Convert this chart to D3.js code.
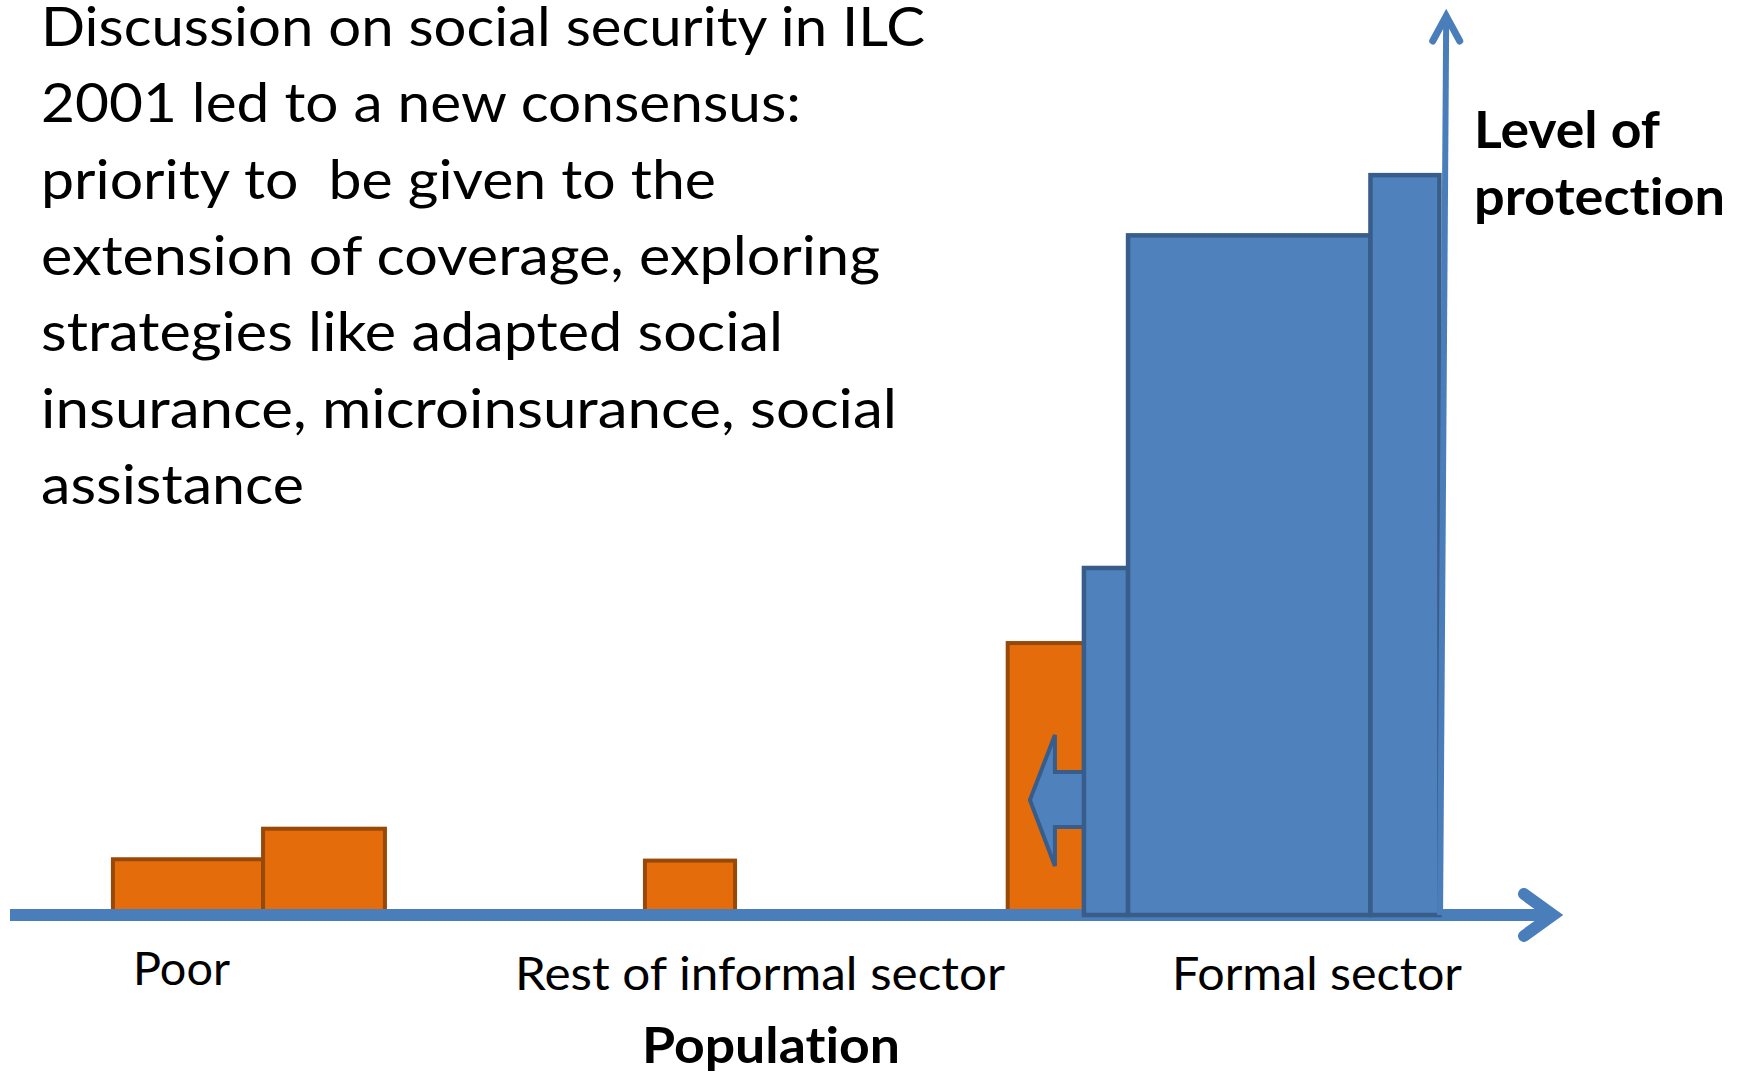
<!DOCTYPE html>
<html>
<head>
<meta charset="utf-8">
<script src="https://cdn.jsdelivr.net/npm/d3@7"></script>
<style>
    body { margin: 0; background: #ffffff; }
    svg { display: block; }
    text { font-family: Lato, "Open Sans", sans-serif; fill: #000000; font-variant-ligatures: none; }
</style>
</head>
<body>
<div id="chart"></div>
<script>
// Population runs left to right (0-100), level of protection bottom to top (0-100)
const informalStart = [6.67, 16.4, 41.15, 64.66];
const informalEnd   = [16.4, 24.3, 46.99, 69.6];
const informalLevel = [6.2, 9.6, 6.05, 30.25];

const formalStart = [69.6, 72.46, 88.17];
const formalEnd   = [72.46, 88.17, 92.64];
const formalLevel = [38.6, 75.6, 82.3];

// Arrow showing the push of formal coverage into the informal sector
const pushArrowX = [70.0, 67.72, 67.72, 66.1, 67.72, 67.72, 70.0];
const pushArrowY = [15.9, 15.9, 20.02, 12.79, 5.45, 9.79, 9.79];

const groupLabels = ["Poor", "Rest of informal sector", "Formal sector"];
const xAxisTitle = "Population";
const yAxisTitle = ["Level of", "protection"];

const noteLines = [
    "Discussion on social security in ILC",
    "2001 led to a new consensus:",
    "priority to  be given to the",
    "extension of coverage, exploring",
    "strategies like adapted social",
    "insurance, microinsurance, social",
    "assistance"
];

class ProtectionChart {
    constructor(_parent) {
        this.parent = _parent;
        this.initVis();
    }

    initVis() {
        let vis = this;

        vis.width = 1739;
        vis.height = 1073;

        vis.svg = d3.select(vis.parent)
            .append("svg")
                .attr("width", vis.width)
                .attr("height", vis.height);

        vis.xScale = d3.scaleLinear().domain([0, 100]).range([10, 1553]);
        vis.yScale = d3.scaleLinear().domain([0, 100]).range([915, 16]);

        vis.colors = {
            orange: "#e46c0a", orangeStroke: "#984807",
            blue: "#4f81bd", blueStroke: "#385d8a",
            axis: "#4a7ebb"
        };

        vis.renderVis();
    }

    renderVis() {
        let vis = this;
        const x = vis.xScale, y = vis.yScale;

        // Informal sector bars (drawn first, axis goes over them)
        vis.svg.append("g").selectAll("rect")
            .data(d3.range(informalStart.length))
            .enter()
            .append("rect")
                .attr("x", i => x(informalStart[i]))
                .attr("y", i => y(informalLevel[i]))
                .attr("width", i => x(informalEnd[i]) - x(informalStart[i]))
                .attr("height", i => y(0) - y(informalLevel[i]))
                .attr("fill", vis.colors.orange)
                .attr("stroke", vis.colors.orangeStroke)
                .attr("stroke-width", 4);

        // Population axis with open arrow head
        const xAxis = vis.svg.append("g")
            .attr("stroke", vis.colors.axis)
            .attr("fill", "none");
        xAxis.append("line")
            .attr("x1", x(0)).attr("x2", x(100))
            .attr("y1", y(0)).attr("y2", y(0))
            .attr("stroke-width", 12);
        xAxis.append("path")
            .attr("d", d3.line()([[x(100) - 29, y(0) - 21], [x(100), y(0)], [x(100) - 29, y(0) + 21]]))
            .attr("stroke-width", 12)
            .attr("stroke-linecap", "round")
            .attr("stroke-linejoin", "miter");

        // Block arrow pointing left
        vis.svg.append("path")
            .attr("d", d3.line()(pushArrowX.map((d, i) => [x(d), y(pushArrowY[i])])) + "Z")
            .attr("fill", vis.colors.blue)
            .attr("stroke", vis.colors.blueStroke)
            .attr("stroke-width", 4)
            .attr("stroke-linejoin", "miter");

        // Formal sector bars
        vis.svg.append("g").selectAll("rect")
            .data(d3.range(formalStart.length))
            .enter()
            .append("rect")
                .attr("x", i => x(formalStart[i]))
                .attr("y", i => y(formalLevel[i]))
                .attr("width", i => x(formalEnd[i]) - x(formalStart[i]))
                .attr("height", i => y(0) - y(formalLevel[i]))
                .attr("fill", vis.colors.blue)
                .attr("stroke", vis.colors.blueStroke)
                .attr("stroke-width", 4.5);

        // Level of protection axis (slightly leaning, as in the slide)
        const yAxis = vis.svg.append("g")
            .attr("stroke", vis.colors.axis)
            .attr("fill", "none");
        yAxis.append("line")
            .attr("x1", x(92.68)).attr("x2", x(93.08))
            .attr("y1", y(0)).attr("y2", y(100))
            .attr("stroke-width", 6);
        yAxis.append("path")
            .attr("d", d3.line()([[x(93.08) - 13.5, y(100) + 25], [x(93.08), y(100)], [x(93.08) + 13.5, y(100) + 25]]))
            .attr("stroke-width", 7)
            .attr("stroke-linecap", "round")
            .attr("stroke-linejoin", "miter");

        // Group labels under the axis
        const labelPos = [[133, 985, 97], [515, 990, 490], [1172, 990, 290]];
        vis.svg.append("g").selectAll("text")
            .data(groupLabels)
            .enter()
            .append("text")
                .attr("x", (d, i) => labelPos[i][0])
                .attr("y", (d, i) => labelPos[i][1])
                .attr("textLength", (d, i) => labelPos[i][2])
                .attr("lengthAdjust", "spacingAndGlyphs")
                .style("font-size", "46px")
                .text(d => d);

        vis.svg.append("text")
            .attr("x", 642)
            .attr("y", 1063)
            .attr("textLength", 258)
            .attr("lengthAdjust", "spacingAndGlyphs")
            .style("font-size", "50px")
            .style("font-weight", "bold")
            .text(xAxisTitle);

        const yTitleWidth = [186, 251];
        vis.svg.append("g").selectAll("text")
            .data(yAxisTitle)
            .enter()
            .append("text")
                .attr("x", 1474)
                .attr("y", (d, i) => 148 + i * 67)
                .attr("textLength", (d, i) => yTitleWidth[i])
                .attr("lengthAdjust", "spacingAndGlyphs")
                .style("font-size", "51px")
                .style("font-weight", "bold")
                .text(d => d);

        // Note block, each line squeezed to the width it has on the slide
        const noteWidth = [884, 760, 675, 839, 742, 856, 263];
        vis.svg.append("g").selectAll("text")
            .data(noteLines)
            .enter()
            .append("text")
                .attr("x", 41)
                .attr("y", (d, i) => 46 + i * 76.3)
                .attr("xml:space", "preserve")
                .attr("textLength", (d, i) => noteWidth[i])
                .attr("lengthAdjust", "spacingAndGlyphs")
                .style("font-size", "55px")
                .style("white-space", "pre")
                .text(d => d);
    }
}

new ProtectionChart("#chart");
</script>
</body>
</html>
